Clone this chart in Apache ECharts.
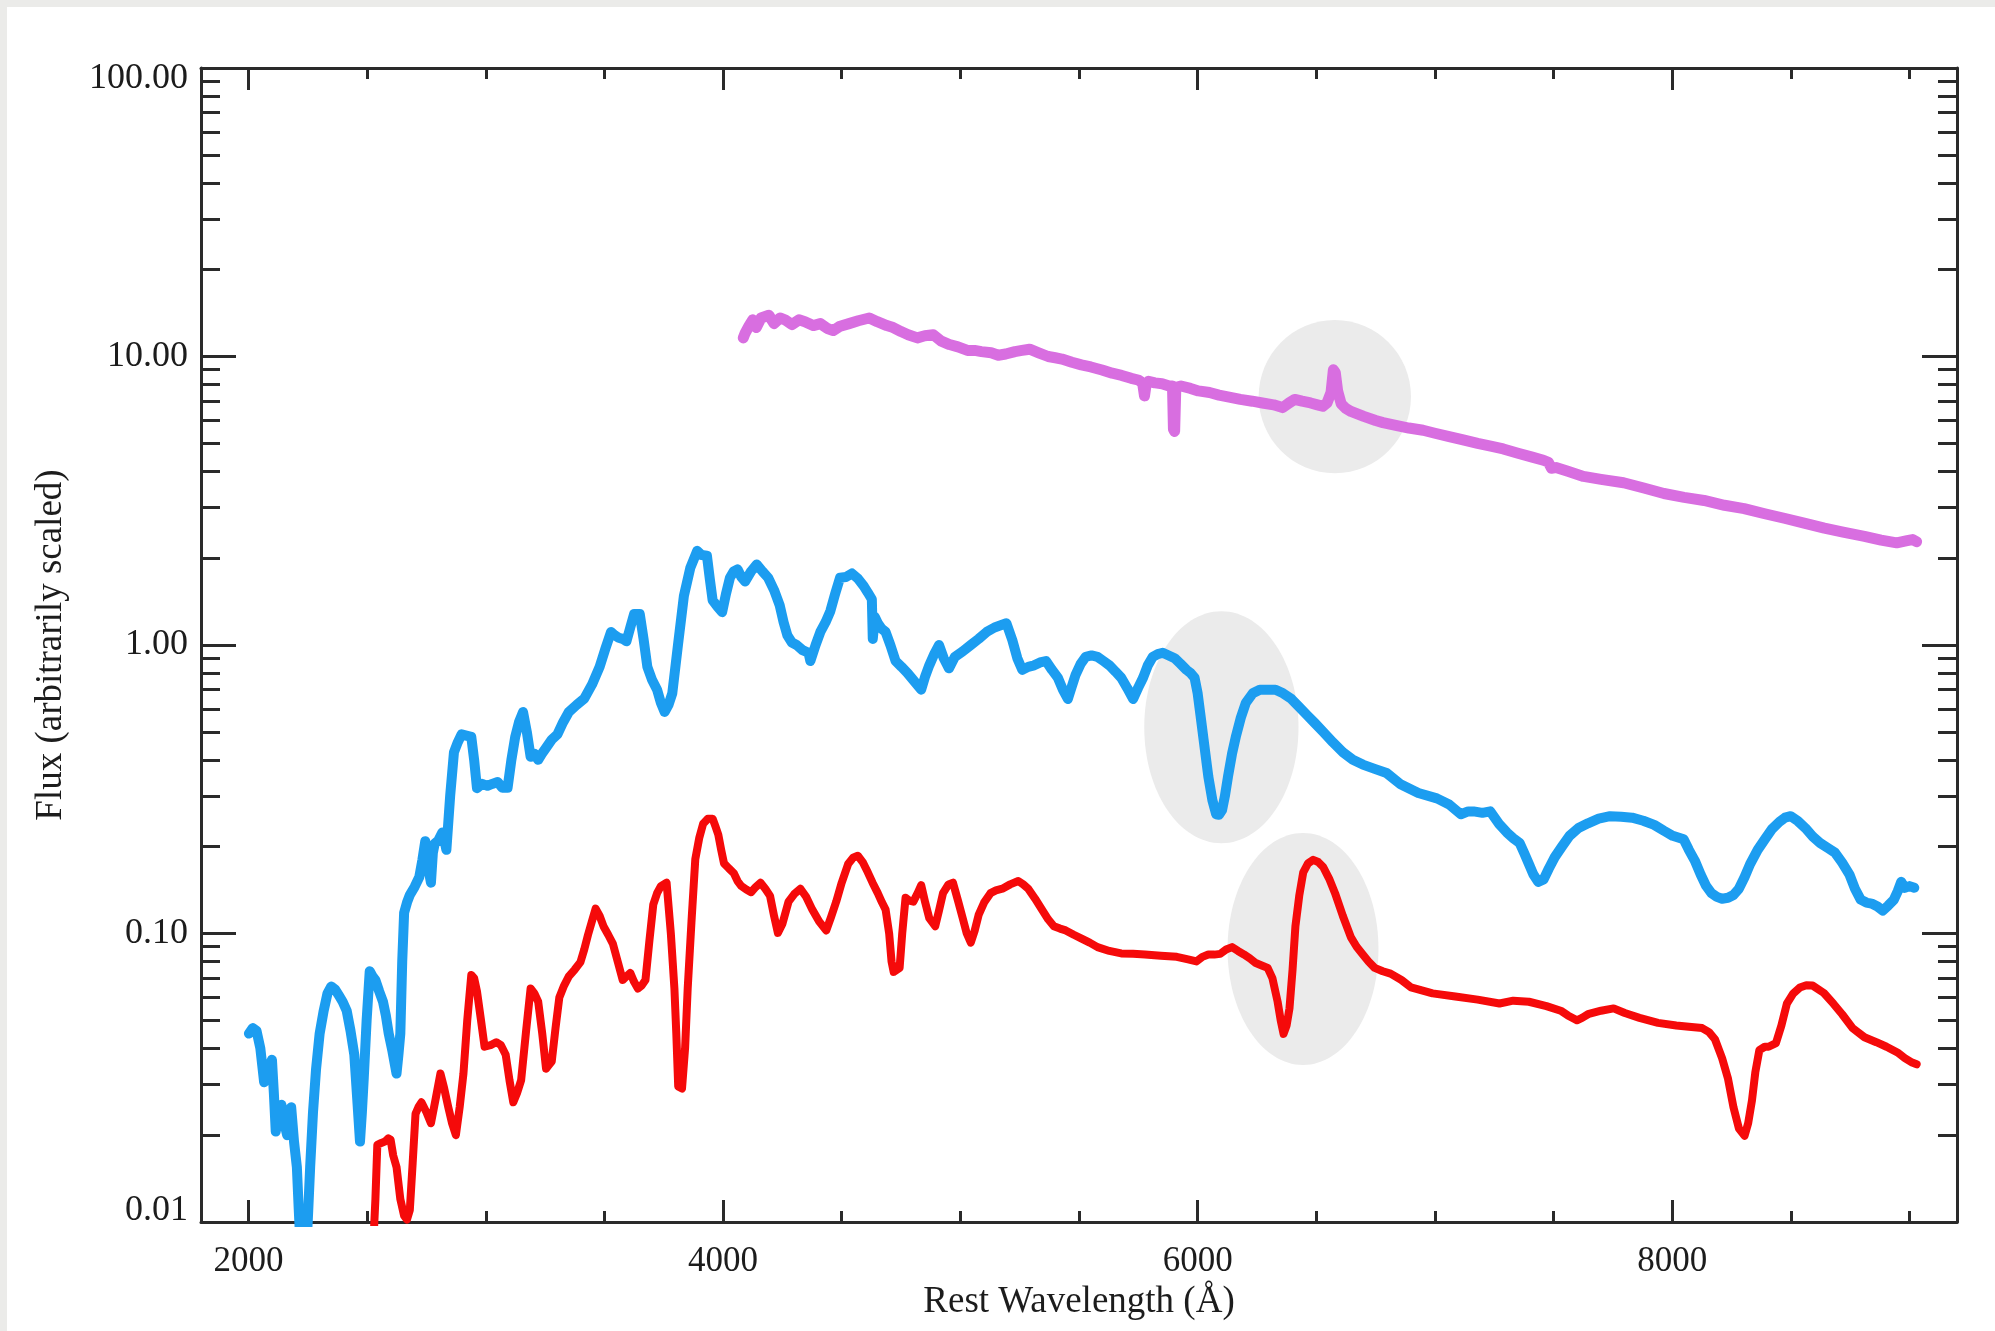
<!DOCTYPE html>
<html>
<head>
<meta charset="utf-8">
<title>Spectra</title>
<script src="https://cdn.jsdelivr.net/npm/echarts@6/dist/echarts.min.js"></script>
<style>
  html, body { margin: 0; padding: 0; background: #ebebe9; width: 1995px; height: 1331px; overflow: hidden; }
  #chart { position: absolute; left: 7px; top: 7px; width: 1988px; height: 1324px; background: #ffffff; }
</style>
</head>
<body>
<div id="chart"></div>
<script>
// Wavelength range (Å) and flux range (log scale)
const xRange = [1800, 9200];
const yRange = [0.01, 100];

// Tick positions
const xMajorTicks = [2000, 4000, 6000, 8000];
const xMinorTicks = [2500, 3000, 3500, 4500, 5000, 5500, 6500, 7000, 7500, 8500, 9000];
const yMajorTicks = [0.01, 0.1, 1, 10, 100];
const yMinorTicks = [
  0.02, 0.03, 0.04, 0.05, 0.06, 0.07, 0.08, 0.09,
  0.2, 0.3, 0.4, 0.5, 0.6, 0.7, 0.8, 0.9,
  2, 3, 4, 5, 6, 7, 8, 9,
  20, 30, 40, 50, 60, 70, 80, 90
];

// Shaded line regions: [centre wavelength, centre flux, half-width (Å), half-height (decades)]
const highlightRegions = [
  [6578, 7.26, 321, 0.266],
  [6100, 0.519, 325, 0.402],
  [6444, 0.0883, 318, 0.402]
];

// Magenta spectrum: [wavelength, flux]
const magentaSpectrum = [
  [4085, 11.6], [4092, 12.0], [4110, 12.8], [4125, 13.4], [4140, 12.6], [4160, 13.6], [4193, 13.9],
  [4215, 13.0], [4240, 13.6], [4261, 13.4], [4290, 12.9], [4320, 13.4], [4345, 13.2], [4380, 12.8],
  [4410, 13.0], [4440, 12.5], [4464, 12.3], [4490, 12.7], [4531, 13.0], [4570, 13.3], [4616, 13.6],
  [4650, 13.2], [4690, 12.8], [4717, 12.6], [4750, 12.2], [4780, 11.9], [4819, 11.6], [4850, 11.8],
  [4886, 11.9], [4920, 11.3], [4954, 11.0], [4990, 10.8], [5030, 10.5], [5060, 10.5], [5089, 10.4],
  [5130, 10.3], [5160, 10.1], [5191, 10.2], [5230, 10.4], [5260, 10.5], [5292, 10.6], [5330, 10.3],
  [5370, 10.0], [5400, 9.9], [5428, 9.8], [5470, 9.55], [5510, 9.35], [5550, 9.2], [5597, 8.98],
  [5640, 8.75], [5680, 8.6], [5720, 8.4], [5749, 8.29], [5768, 8.1], [5776, 7.3], [5782, 7.9],
  [5793, 8.2], [5820, 8.1], [5850, 8.05], [5880, 7.9], [5894, 7.9], [5898, 5.6], [5903, 5.5],
  [5908, 7.8], [5930, 7.9], [5970, 7.75], [6003, 7.6], [6050, 7.5], [6090, 7.35], [6138, 7.22],
  [6180, 7.1], [6230, 7.0], [6273, 6.9], [6320, 6.8], [6358, 6.65], [6385, 6.9], [6409, 7.1],
  [6440, 7.0], [6476, 6.9], [6505, 6.8], [6527, 6.72], [6545, 6.9], [6562, 7.5], [6572, 9.0],
  [6580, 8.8], [6590, 7.6], [6605, 6.85], [6625, 6.6], [6646, 6.45], [6700, 6.2], [6750, 6.0],
  [6781, 5.9], [6830, 5.78], [6890, 5.65], [6950, 5.55], [7000, 5.42], [7060, 5.28], [7119, 5.14],
  [7180, 5.0], [7240, 4.88], [7288, 4.78], [7350, 4.62], [7410, 4.48], [7457, 4.37], [7478, 4.3],
  [7491, 4.1], [7510, 4.12], [7560, 4.0], [7626, 3.84], [7700, 3.75], [7795, 3.65], [7880, 3.5],
  [7965, 3.35], [8050, 3.25], [8134, 3.17], [8220, 3.05], [8303, 2.97], [8390, 2.85], [8472, 2.75],
  [8560, 2.64], [8641, 2.54], [8720, 2.46], [8810, 2.38], [8880, 2.31], [8946, 2.26], [8990, 2.3],
  [9013, 2.32], [9030, 2.28]
];

// Blue spectrum: [wavelength, flux]
const blueSpectrum = [
  [2002, 0.045], [2018, 0.047], [2034, 0.046], [2050, 0.040], [2066, 0.0305], [2082, 0.034],
  [2099, 0.0365], [2107, 0.028], [2115, 0.0206], [2127, 0.024], [2139, 0.0255], [2151, 0.022],
  [2163, 0.020], [2172, 0.024], [2180, 0.025], [2192, 0.019], [2204, 0.0155], [2212, 0.011],
  [2220, 0.008], [2235, 0.007], [2244, 0.008], [2252, 0.011], [2260, 0.0155], [2272, 0.024],
  [2285, 0.034], [2300, 0.045], [2317, 0.054], [2333, 0.062], [2349, 0.0655], [2365, 0.064],
  [2381, 0.061], [2397, 0.058], [2414, 0.054], [2430, 0.046], [2446, 0.038], [2458, 0.027],
  [2470, 0.019], [2478, 0.024], [2486, 0.0316], [2498, 0.05], [2511, 0.074], [2523, 0.071],
  [2535, 0.069], [2551, 0.063], [2567, 0.058], [2579, 0.052], [2591, 0.045], [2607, 0.039],
  [2624, 0.0327], [2632, 0.038], [2640, 0.045], [2648, 0.08], [2656, 0.118], [2668, 0.128],
  [2680, 0.136], [2700, 0.145], [2720, 0.157], [2733, 0.18], [2745, 0.209], [2757, 0.17],
  [2769, 0.15], [2777, 0.19], [2785, 0.205], [2800, 0.21], [2817, 0.224], [2826, 0.21],
  [2834, 0.195], [2850, 0.30], [2866, 0.425], [2882, 0.46], [2898, 0.49], [2918, 0.485],
  [2939, 0.48], [2951, 0.40], [2963, 0.319], [2985, 0.33], [3007, 0.325], [3027, 0.33],
  [3050, 0.335], [3070, 0.32], [3092, 0.32], [3108, 0.40], [3124, 0.48], [3140, 0.54],
  [3157, 0.586], [3173, 0.50], [3189, 0.41], [3205, 0.42], [3221, 0.40], [3237, 0.42],
  [3254, 0.44], [3278, 0.47], [3302, 0.49], [3326, 0.54], [3350, 0.586], [3383, 0.62],
  [3415, 0.652], [3448, 0.73], [3480, 0.84], [3504, 0.97], [3528, 1.11], [3544, 1.08],
  [3560, 1.06], [3577, 1.05], [3593, 1.03], [3609, 1.15], [3625, 1.28], [3649, 1.28],
  [3665, 1.05], [3681, 0.84], [3700, 0.76], [3722, 0.70], [3738, 0.63], [3754, 0.586],
  [3770, 0.62], [3786, 0.68], [3810, 1.0], [3835, 1.48], [3862, 1.85], [3891, 2.12],
  [3910, 2.05], [3932, 2.04], [3944, 1.70], [3956, 1.43], [3976, 1.36], [3996, 1.30],
  [4012, 1.50], [4029, 1.71], [4045, 1.80], [4061, 1.83], [4077, 1.72], [4093, 1.66],
  [4118, 1.80], [4142, 1.9], [4166, 1.80], [4190, 1.71], [4215, 1.55], [4239, 1.37],
  [4255, 1.2], [4271, 1.08], [4290, 1.02], [4310, 1.0], [4335, 0.96], [4360, 0.94],
  [4368, 0.88], [4390, 1.0], [4410, 1.11], [4432, 1.2], [4452, 1.31], [4472, 1.5],
  [4493, 1.71], [4518, 1.72], [4543, 1.77], [4568, 1.70], [4593, 1.60], [4610, 1.52],
  [4627, 1.44], [4631, 1.05], [4640, 1.25], [4652, 1.19], [4668, 1.14], [4685, 1.11],
  [4705, 1.0], [4727, 0.88], [4752, 0.84], [4777, 0.80], [4805, 0.75], [4835, 0.70],
  [4852, 0.78], [4869, 0.85], [4890, 0.93], [4910, 1.0], [4930, 0.90], [4952, 0.83],
  [4977, 0.91], [5010, 0.95], [5044, 1.0], [5077, 1.05], [5111, 1.11], [5144, 1.15],
  [5170, 1.17], [5194, 1.19], [5219, 1.04], [5240, 0.90], [5261, 0.82], [5286, 0.84],
  [5311, 0.85], [5336, 0.87], [5361, 0.88], [5386, 0.82], [5411, 0.77], [5432, 0.70],
  [5453, 0.65], [5470, 0.72], [5486, 0.79], [5507, 0.86], [5528, 0.91], [5553, 0.92],
  [5578, 0.91], [5603, 0.88], [5628, 0.85], [5653, 0.81], [5678, 0.77], [5703, 0.71],
  [5728, 0.65], [5749, 0.71], [5770, 0.77], [5790, 0.85], [5811, 0.91], [5832, 0.93],
  [5853, 0.94], [5878, 0.92], [5903, 0.90], [5928, 0.86], [5953, 0.82], [5970, 0.80],
  [5987, 0.77], [6000, 0.68], [6012, 0.57], [6028, 0.45], [6045, 0.35], [6062, 0.29],
  [6078, 0.259], [6090, 0.258], [6103, 0.268], [6115, 0.30], [6128, 0.35], [6145, 0.42],
  [6162, 0.485], [6182, 0.56], [6203, 0.63], [6232, 0.68], [6262, 0.70], [6295, 0.70],
  [6328, 0.70], [6360, 0.68], [6395, 0.65], [6428, 0.61], [6462, 0.57], [6495, 0.535],
  [6529, 0.50], [6570, 0.46], [6612, 0.425], [6654, 0.40], [6696, 0.385], [6746, 0.372],
  [6796, 0.36], [6853, 0.33], [6930, 0.307], [7008, 0.294], [7060, 0.28], [7109, 0.259],
  [7140, 0.265], [7163, 0.265], [7200, 0.262], [7233, 0.265], [7270, 0.24], [7303, 0.224],
  [7330, 0.214], [7357, 0.206], [7376, 0.19], [7396, 0.174], [7415, 0.16], [7435, 0.151],
  [7458, 0.154], [7480, 0.168], [7505, 0.184], [7535, 0.20], [7567, 0.218], [7605, 0.232],
  [7645, 0.241], [7690, 0.25], [7738, 0.255], [7785, 0.254], [7831, 0.252], [7878, 0.246],
  [7924, 0.238], [7965, 0.227], [8002, 0.218], [8048, 0.212], [8070, 0.195], [8095, 0.179],
  [8120, 0.16], [8142, 0.1465], [8165, 0.138], [8188, 0.134], [8210, 0.132], [8235, 0.133],
  [8258, 0.136], [8281, 0.143], [8305, 0.157], [8328, 0.174], [8360, 0.195], [8390, 0.212],
  [8420, 0.23], [8452, 0.244], [8475, 0.252], [8499, 0.255], [8530, 0.245], [8561, 0.232],
  [8592, 0.217], [8623, 0.206], [8655, 0.198], [8685, 0.191], [8716, 0.176], [8747, 0.16],
  [8770, 0.143], [8794, 0.131], [8818, 0.128], [8840, 0.127], [8865, 0.124], [8887, 0.12],
  [8910, 0.125], [8934, 0.131], [8950, 0.14], [8965, 0.151], [8980, 0.144], [9000, 0.146],
  [9020, 0.144]
];

// Red spectrum: [wavelength, flux]
const redSpectrum = [
  [2525, 0.008], [2535, 0.012], [2543, 0.0185], [2560, 0.0188], [2575, 0.019], [2590, 0.0195],
  [2599, 0.0193], [2610, 0.017], [2624, 0.0155], [2640, 0.012], [2656, 0.0105], [2668, 0.0102],
  [2680, 0.011], [2692, 0.016], [2704, 0.0237], [2716, 0.025], [2729, 0.026], [2750, 0.024],
  [2769, 0.022], [2790, 0.027], [2809, 0.0327], [2825, 0.029], [2842, 0.025], [2858, 0.022],
  [2874, 0.020], [2890, 0.025], [2906, 0.0327], [2922, 0.05], [2939, 0.0718], [2951, 0.07],
  [2963, 0.063], [2980, 0.05], [2995, 0.0405], [3020, 0.041], [3044, 0.042], [3064, 0.041],
  [3084, 0.038], [3100, 0.031], [3116, 0.026], [3132, 0.028], [3149, 0.031], [3170, 0.046],
  [3189, 0.0645], [3205, 0.062], [3221, 0.058], [3238, 0.045], [3254, 0.034], [3266, 0.035],
  [3278, 0.036], [3294, 0.047], [3310, 0.06], [3330, 0.066], [3350, 0.071], [3375, 0.075],
  [3399, 0.0796], [3415, 0.088], [3431, 0.099], [3447, 0.11], [3463, 0.122], [3480, 0.115],
  [3496, 0.106], [3516, 0.099], [3536, 0.092], [3556, 0.08], [3577, 0.069], [3593, 0.071],
  [3609, 0.073], [3625, 0.068], [3641, 0.0645], [3657, 0.066], [3673, 0.069], [3690, 0.095],
  [3706, 0.126], [3722, 0.138], [3738, 0.146], [3762, 0.15], [3780, 0.10], [3795, 0.0645],
  [3803, 0.045], [3811, 0.0295], [3827, 0.029], [3840, 0.040], [3851, 0.0645], [3867, 0.11],
  [3883, 0.181], [3900, 0.215], [3916, 0.24], [3936, 0.25], [3956, 0.25], [3968, 0.235],
  [3980, 0.22], [3992, 0.195], [4004, 0.175], [4025, 0.168], [4045, 0.162], [4061, 0.152],
  [4077, 0.146], [4098, 0.142], [4118, 0.139], [4138, 0.145], [4158, 0.15], [4178, 0.143],
  [4198, 0.135], [4215, 0.115], [4231, 0.1005], [4250, 0.108], [4276, 0.129], [4300, 0.137],
  [4326, 0.143], [4350, 0.134], [4376, 0.121], [4405, 0.11], [4435, 0.1025], [4455, 0.114],
  [4477, 0.129], [4500, 0.15], [4527, 0.174], [4548, 0.183], [4568, 0.186], [4590, 0.176],
  [4610, 0.163], [4630, 0.15], [4652, 0.138], [4670, 0.128], [4685, 0.121], [4700, 0.10],
  [4710, 0.08], [4719, 0.0736], [4744, 0.076], [4755, 0.10], [4769, 0.133], [4785, 0.13],
  [4802, 0.129], [4820, 0.138], [4835, 0.147], [4852, 0.128], [4869, 0.113], [4894, 0.106],
  [4910, 0.12], [4927, 0.138], [4950, 0.148], [4969, 0.15], [4990, 0.13], [5010, 0.113],
  [5027, 0.10], [5044, 0.093], [5060, 0.102], [5077, 0.116], [5100, 0.128], [5127, 0.138],
  [5150, 0.141], [5177, 0.143], [5210, 0.148], [5244, 0.152], [5265, 0.148], [5286, 0.143],
  [5315, 0.132], [5344, 0.121], [5370, 0.112], [5394, 0.106], [5420, 0.104], [5444, 0.1025],
  [5478, 0.099], [5511, 0.096], [5545, 0.093], [5578, 0.0897], [5628, 0.087], [5678, 0.0853],
  [5728, 0.085], [5778, 0.0846], [5845, 0.0838], [5912, 0.083], [5955, 0.0815], [5995, 0.080],
  [6020, 0.083], [6045, 0.0846], [6070, 0.0845], [6095, 0.085], [6120, 0.088], [6145, 0.0897],
  [6170, 0.087], [6195, 0.0846], [6220, 0.082], [6245, 0.079], [6270, 0.0775], [6295, 0.076],
  [6315, 0.07], [6337, 0.058], [6350, 0.05], [6362, 0.0449], [6375, 0.048], [6387, 0.055],
  [6400, 0.075], [6412, 0.106], [6428, 0.135], [6445, 0.163], [6465, 0.175], [6487, 0.18],
  [6508, 0.177], [6529, 0.17], [6554, 0.155], [6579, 0.138], [6612, 0.115], [6646, 0.097],
  [6670, 0.09], [6696, 0.0846], [6720, 0.08], [6746, 0.076], [6780, 0.074], [6813, 0.0726],
  [6859, 0.069], [6899, 0.065], [6990, 0.062], [7086, 0.0605], [7180, 0.059], [7272, 0.0572],
  [7330, 0.0585], [7396, 0.058], [7470, 0.056], [7530, 0.054], [7560, 0.052], [7598, 0.050],
  [7620, 0.051], [7645, 0.0525], [7700, 0.054], [7753, 0.055], [7800, 0.053], [7862, 0.051],
  [7940, 0.049], [8017, 0.048], [8070, 0.0475], [8126, 0.047], [8155, 0.0455], [8180, 0.043],
  [8210, 0.037], [8235, 0.0314], [8258, 0.025], [8281, 0.0211], [8305, 0.0199], [8320, 0.022],
  [8336, 0.0264], [8350, 0.033], [8367, 0.0394], [8390, 0.0405], [8406, 0.0405], [8437, 0.0417],
  [8460, 0.048], [8483, 0.0571], [8510, 0.062], [8538, 0.065], [8565, 0.0662], [8592, 0.066],
  [8639, 0.0622], [8680, 0.057], [8716, 0.0525], [8760, 0.047], [8810, 0.0437], [8860, 0.042],
  [8903, 0.0405], [8949, 0.0387], [8980, 0.037], [9011, 0.0357], [9030, 0.0352]
];

const FONT = "'Liberation Serif', 'DejaVu Serif', serif";
const AXIS_COLOR = '#2a2a2a';
const TEXT_COLOR = '#1c1c1c';

const chart = echarts.init(document.getElementById('chart'), null, { renderer: 'canvas' });

function xAxisDef(position, ticks, tickLen, showLine, withLabels) {
  return {
    type: 'value', position: position, min: xRange[0], max: xRange[1],
    axisLine: { show: showLine, onZero: false, lineStyle: { color: AXIS_COLOR, width: 3 } },
    axisTick: { show: true, inside: true, length: tickLen, customValues: ticks,
                lineStyle: { color: AXIS_COLOR, width: 3 } },
    axisLabel: withLabels ? {
      show: true, customValues: ticks, margin: 22, fontSize: 35, fontFamily: FONT, color: TEXT_COLOR,
      formatter: v => String(v)
    } : { show: false },
    splitLine: { show: false },
    name: withLabels ? 'Rest Wavelength (Å)' : '',
    nameLocation: 'middle', nameGap: 60,
    nameTextStyle: { fontSize: 37, fontFamily: FONT, color: TEXT_COLOR }
  };
}

// The end labels of the flux axis sit inside the frame: the top one a little lower, the bottom one a little higher
function fluxLabel(v) {
  const text = Number(v).toFixed(2);
  if (v >= yRange[1]) return '{hi|' + text + '}';
  if (v <= yRange[0]) return '{lo|' + text + '}';
  return text;
}

function yAxisDef(position, ticks, tickLen, showLine, withLabels) {
  const labelText = { fontSize: 36, fontFamily: FONT, color: TEXT_COLOR };
  return {
    type: 'log', logBase: 10, position: position, min: yRange[0], max: yRange[1],
    axisLine: { show: showLine, onZero: false, lineStyle: { color: AXIS_COLOR, width: 3 } },
    axisTick: { show: true, inside: true, length: tickLen, customValues: ticks,
                lineStyle: { color: AXIS_COLOR, width: 3 } },
    axisLabel: withLabels ? {
      show: true, customValues: ticks, margin: 13, fontSize: 36, fontFamily: FONT, color: TEXT_COLOR,
      formatter: fluxLabel,
      rich: {
        hi: Object.assign({ padding: [22, 0, 0, 0] }, labelText),
        lo: Object.assign({ padding: [0, 0, 22, 0] }, labelText)
      }
    } : { show: false },
    splitLine: { show: false },
    minorTick: { show: false },
    name: withLabels ? 'Flux (arbitrarily scaled)' : '',
    nameLocation: 'middle', nameGap: 131,
    nameTextStyle: { fontSize: 37, fontFamily: FONT, color: TEXT_COLOR }
  };
}

function lineSeries(name, data, color, width) {
  return {
    name: name, type: 'line', data: data, xAxisIndex: 0, yAxisIndex: 0,
    showSymbol: false, symbol: 'none', smooth: false, clip: true, z: 3,
    lineStyle: { color: color, width: width, cap: 'round', join: 'round' },
    emphasis: { disabled: true }
  };
}

const option = {
  animation: false,
  backgroundColor: '#ffffff',
  grid: { left: 194, top: 61, right: 38, bottom: 109, containLabel: false },
  xAxis: [
    xAxisDef('bottom', xMajorTicks, 22, true, true),
    xAxisDef('bottom', xMinorTicks, 11, false, false),
    xAxisDef('top', xMajorTicks, 22, true, false),
    xAxisDef('top', xMinorTicks, 11, false, false)
  ],
  yAxis: [
    yAxisDef('left', yMajorTicks, 35, true, true),
    yAxisDef('left', yMinorTicks, 19, false, false),
    yAxisDef('right', yMajorTicks, 35, true, false),
    yAxisDef('right', yMinorTicks, 19, false, false)
  ],
  series: [
    {
      type: 'custom', name: 'regions', xAxisIndex: 0, yAxisIndex: 0, z: 1,
      data: highlightRegions,
      renderItem: function (params, api) {
        const x = api.value(0), y = api.value(1), dx = api.value(2), dy = api.value(3);
        const c = api.coord([x, y]);
        const cr = api.coord([x + dx, y]);
        const ct = api.coord([x, y * Math.pow(10, dy)]);
        return {
          type: 'ellipse',
          shape: { cx: c[0], cy: c[1], rx: cr[0] - c[0], ry: c[1] - ct[1] },
          style: { fill: '#ebebeb' }
        };
      },
      silent: true
    },
    lineSeries('magenta', magentaSpectrum, '#d86ee0', 11),
    lineSeries('blue', blueSpectrum, '#1c9df0', 10),
    lineSeries('red', redSpectrum, '#f50a0a', 8)
  ]
};

chart.setOption(option);
</script>
</body>
</html>
